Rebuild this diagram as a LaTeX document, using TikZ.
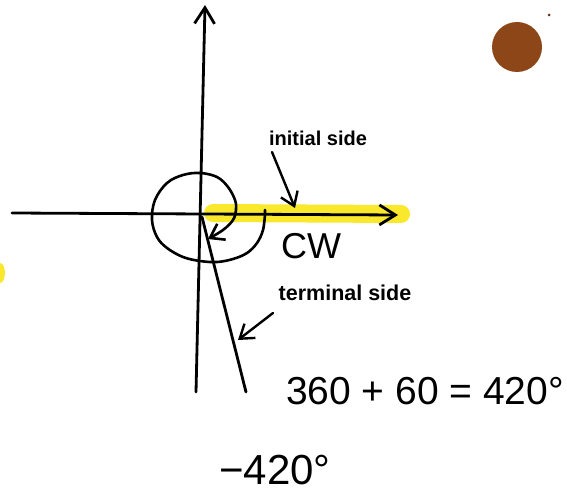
\documentclass[tikz,border=0pt]{standalone}
\usepackage{fontspec}
\setmainfont{Liberation Sans}
\usetikzlibrary{arrows.meta}
\definecolor{hiyellow}{RGB}{250,232,45}
\definecolor{penny}{RGB}{140,70,24}
\begin{document}
\begin{tikzpicture}[x=1pt, y=-1pt, line cap=round, line join=round,
  pen/.style={line width=2.8pt, black},
  axistip/.style={-{Straight Barb[length=16pt, width=20pt]}},
  smalltip/.style={-{Straight Barb[length=13pt, width=18pt]}},
  lbl/.style={font=\fontsize{#1}{#1}\selectfont\bfseries, inner sep=0pt, anchor=base},
  hand/.style={font=\fontsize{#1}{#1}\selectfont, inner sep=0pt, anchor=base}]
  \fill[white] (0,0) rectangle (567,492);
  \useasboundingbox (0,0) rectangle (567,492);
  % highlighter
  \draw[hiyellow, line width=18pt] (213,213) -- (401,214);
  \fill[hiyellow] (0,273) ellipse[x radius=5, y radius=10];
  \coordinate (O) at (201,213);
  \coordinate (xend) at (398,215);
  \coordinate (yend) at (205,5);
  \coordinate (termend) at (246,392);
  % axes
  \draw[pen, axistip] (12,213) -- (xend);
  \draw[pen, axistip] (196,392) -- (yend);
  % terminal side
  \draw[pen] (O) ++(1,4) -- (termend);
  % clockwise turn
  \draw[pen, line width=2.6pt, smalltip] (265,210) -- (265,214)
    plot[smooth, tension=0.6] coordinates {(265,214) (263,230) (257,243) (247,253) (233,259) (217,262)
      (200,261) (183,257) (167,248) (157,237) (152,220) (155,200) (167,183) (183,175) (200,173)
      (217,177) (228,187) (235,200) (236,210) (233,220) (223,230) (208,239)};
  % labels
  \node[lbl=20] (initlbl) at (318,145) {initial side};
  \node[lbl=21.5] (termlbl) at (345,300) {terminal side};
  \coordinate (inithit) at (295,208);
  \coordinate (termhit) at (238,340);
  \draw[pen, line width=2.4pt, smalltip] (272,152) -- (inithit);
  \draw[pen, line width=2.4pt, smalltip] (273,313) -- (termhit);
  \node[hand=36] (cw) at (311,258) {CW};
  \node[hand=39] (sum) at (425,404) {360 + 60 = 420°};
  \node[hand=42] (ang) at (275,484) {−420°};
  % penny
  \fill[penny] (517,47) circle[radius=25];
  \fill[penny!70!black] (549,15) circle[radius=1.5];
\end{tikzpicture}
\end{document}
